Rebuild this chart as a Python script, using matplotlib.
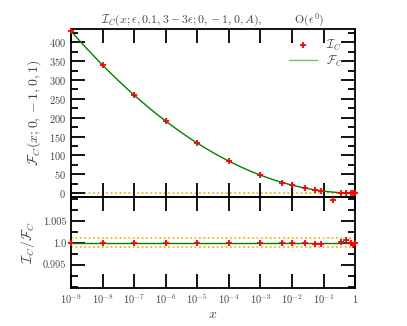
import numpy as np
import matplotlib
matplotlib.use('Agg')
import matplotlib.pyplot as plt
from matplotlib.ticker import MultipleLocator, FixedLocator, NullLocator

plt.rcParams['mathtext.fontset'] = 'cm'
plt.rcParams['font.family'] = 'serif'
plt.rcParams['font.serif'] = ['cmr10', 'DejaVu Serif']
plt.rcParams['axes.formatter.use_mathtext'] = True

# ============================================
# DATA
# ============================================
# smooth F_C curve
curve_x = [1e-9, 10**-8.75, 10**-8.5, 10**-8.25, 1e-8, 10**-7.75, 10**-7.5, 10**-7.25,
           1e-7, 10**-6.75, 10**-6.5, 10**-6.25, 1e-6, 10**-5.75, 10**-5.5, 10**-5.25,
           1e-5, 10**-4.75, 10**-4.5, 10**-4.25, 1e-4, 10**-3.75, 10**-3.5, 10**-3.25,
           1e-3, 10**-2.75, 10**-2.5, 10**-2.25, 1e-2, 10**-1.75, 10**-1.5, 10**-1.25,
           1e-1, 10**-0.75, 10**-0.5, 10**-0.25, 1.0]
curve_F = [429.4, 405.9, 383.1, 360.9, 339.3, 318.4, 298.2, 278.7,
           259.8, 241.6, 224.0, 207.1, 190.9, 175.3, 160.4, 146.1,
           132.5, 119.6, 107.4, 95.8, 84.8, 74.6, 64.9, 56.0,
           47.7, 40.1, 33.1, 26.8, 21.2, 16.2, 11.9, 8.28,
           5.30, 2.98, 1.33, 0.33, 0.0]

# I_C points
pts_x = [1e-9, 1e-8, 1e-7, 1e-6, 1e-5, 1e-4, 1e-3, 5e-3, 1e-2,
         0.025, 0.055, 0.085, 0.2, 0.35, 0.52, 0.72, 0.85, 0.97]
pts_I = [429.5, 339.3, 259.8, 190.9, 132.5, 84.8, 47.7, 28.1, 21.2,
         13.6, 8.41, 6.08, -17.0, 1.10, 0.43, 0.11, 0.03, 0.0]
# ratio I_C / F_C (the 0.2 point is off scale)
pts_ratio = [1.0, 1.0, 1.0, 1.0, 1.0, 1.0, 1.0, 1.0, 1.0,
             1.0, 0.9997, 0.9997, np.nan, 1.0003, 1.0006, 1.0, 0.9995, 1.0]

xticks = [1e-9, 1e-8, 1e-7, 1e-6, 1e-5, 1e-4, 1e-3, 1e-2, 1e-1, 1]
xticklabels = [r'$10^{-9}$', r'$10^{-8}$', r'$10^{-7}$', r'$10^{-6}$', r'$10^{-5}$',
               r'$10^{-4}$', r'$10^{-3}$', r'$10^{-2}$', r'$10^{-1}$', r'$1$']

txt = '#444444'

fig = plt.figure(figsize=(4.07, 3.26), dpi=100)
ax2 = fig.add_axes([0.1745, 0.117, 0.698, 0.279])
ax1 = fig.add_axes([0.1745, 0.396, 0.698, 0.515])
ax1.set_facecolor('none')

# --- top panel ---
ax1.axhline(0, color='orange', linestyle=':', linewidth=1.2, zorder=1)
ax1.plot(curve_x, curve_F, color='green', linewidth=1.0, label=r'$\mathcal{F}_C$', zorder=2)
ax1.plot(pts_x, pts_I, linestyle='none', marker='+', color='red', markersize=5,
         markeredgewidth=1.3, label=r'$\mathcal{I}_C$', zorder=3, clip_on=False)
ax1.set_ylim(-10, 435)
ax1.yaxis.set_major_locator(FixedLocator([0, 50, 100, 150, 200, 250, 300, 350, 400]))
ax1.yaxis.set_minor_locator(MultipleLocator(25))
ax1.set_ylabel(r'$\mathcal{F}_C(x;0,-1,0,1)$', color=txt, fontsize=10)

h, l = ax1.get_legend_handles_labels()
leg = ax1.legend(h[::-1], l[::-1], loc='upper right', frameon=False, fontsize=8.5,
                 handlelength=2.3, labelspacing=0.05, handletextpad=0.8,
                 borderaxespad=0.0, bbox_to_anchor=(0.975, 0.975))
for t in leg.get_texts():
    t.set_color(txt)
leg.get_lines()[1].set_color('#77c077')

ax1.set_title(r'$\mathcal{I}_C(x;\epsilon,0.1,3-3\epsilon;0,-1,0,A),$        O$(\epsilon^0)$',
              fontsize=8.5, color=txt, pad=4)

# --- bottom panel ---
ax2.axhline(1.001, color='orange', linestyle=':', linewidth=1.2, zorder=1)
ax2.axhline(0.999, color='orange', linestyle=':', linewidth=1.2, zorder=1)
ax2.axhline(1.0, color='green', linewidth=1.0, zorder=2)
ax2.plot(pts_x, pts_ratio, linestyle='none', marker='+', color='red', markersize=5,
         markeredgewidth=1.3, zorder=3, clip_on=False)
ax2.set_ylim(0.9897, 1.0105)
ax2.yaxis.set_major_locator(FixedLocator([0.995, 1.0, 1.005]))
ax2.yaxis.set_minor_locator(MultipleLocator(0.0025))
ax2.set_yticklabels(['0.995', '1.0', '1.005'])
ax2.set_ylabel(r'$\mathcal{I}_C/\mathcal{F}_C$', color=txt, fontsize=10)
ax2.set_xlabel(r'$x$', color=txt, fontsize=10, labelpad=2)

for ax in (ax1, ax2):
    ax.set_xscale('log')
    ax.set_xlim(1e-9, 1)
    ax.xaxis.set_major_locator(FixedLocator(xticks))
    ax.xaxis.set_minor_locator(NullLocator())
    ax.tick_params(which='major', direction='in', length=10, width=1.3,
                   top=True, right=True, labelsize=7.5, labelcolor=txt)
    ax.tick_params(which='minor', direction='in', length=5, width=1.3, right=True)
    for s in ax.spines.values():
        s.set_linewidth(1.3)

ax1.tick_params(axis='x', which='major', labelbottom=False)
ax2.set_xticklabels(xticklabels)

plt.savefig('out.png', dpi=100)
